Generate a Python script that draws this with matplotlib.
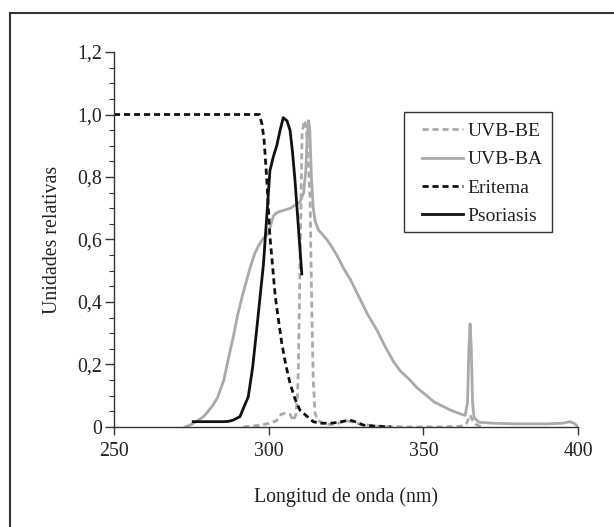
import matplotlib
matplotlib.use("Agg")
import matplotlib.pyplot as plt
from matplotlib.lines import Line2D
from matplotlib.patches import Rectangle
from matplotlib.ticker import MultipleLocator, FuncFormatter

plt.rcParams['font.family'] = ['Liberation Serif', 'DejaVu Serif']

# UVB-BE (gris discontinua)
be_x = [291.8, 294.5, 297, 300.4, 302.5, 304.0, 305.3, 306.9, 308.0, 308.8, 309.3, 309.6,
        310.1, 310.5, 310.8, 311.3, 311.7, 312.2, 312.8, 313.4, 313.8, 314.4, 315.0, 316,
        318, 320, 322.5, 325.2, 327.5, 330, 335, 345, 355, 362, 364, 365.1, 366, 367.3, 369]
be_y = [0, 0.003, 0.005, 0.012, 0.02, 0.04, 0.044, 0.04, 0.02, 0.04, 0.1, 0.19,
        0.51, 0.75, 0.94, 0.97, 0.98, 0.95, 0.85, 0.73, 0.45, 0.15, 0.044, 0.02,
        0.01, 0.008, 0.012, 0.02, 0.015, 0.008, 0.003, 0.0, 0.0, 0.002, 0.012, 0.038, 0.02, 0.006, 0.0]

# UVB-BA (gris continua)
ba_x = [273, 275, 277, 278.9, 280, 282, 283.5, 285.5, 287, 288.6, 290, 291.5, 292.9, 294,
        295.5, 296.7, 298, 299.9, 300.5, 301.5, 302.5, 303.7, 307, 310.1, 311.3, 312.0,
        312.5, 312.9, 313.3, 313.8, 314.4, 315.0, 316.1, 317.5, 318.8, 320.5, 322, 324.1,
        326.5, 329.5, 332, 335, 337.5, 340.3, 342.5, 345.7, 348, 351.1, 353.5, 356.5, 359,
        361.9, 363.5, 364.3, 364.7, 365.1, 365.5, 365.9, 366.4, 368, 372.6, 380, 390, 395,
        397.4, 399, 400]
ba_y = [0.0, 0.008, 0.02, 0.033, 0.045, 0.07, 0.095, 0.15, 0.22, 0.29, 0.36, 0.42, 0.47, 0.51,
        0.555, 0.58, 0.60, 0.62, 0.64, 0.675, 0.685, 0.69, 0.70, 0.72, 0.75, 0.82,
        0.94, 0.98, 0.95, 0.80, 0.70, 0.66, 0.63, 0.615, 0.60, 0.575, 0.55, 0.51,
        0.47, 0.41, 0.36, 0.31, 0.26, 0.21, 0.18, 0.15, 0.125, 0.10, 0.08, 0.065, 0.053,
        0.042, 0.037, 0.08, 0.25, 0.33, 0.25, 0.08, 0.03, 0.015, 0.012, 0.010, 0.010, 0.012,
        0.017, 0.01, 0.0]

# Eritema (negra discontinua)
eri_x = [250, 297, 297.8, 298.5, 299.4, 300.4, 301.3, 302.1, 303.2, 304.2, 305.5, 306.9,
         308.5, 310.1, 312.3, 314.4, 316.5, 319.9, 322, 324, 326.3, 328.5, 330.6, 334, 339.5]
eri_y = [1.0, 1.0, 0.97, 0.92, 0.79, 0.61, 0.51, 0.42, 0.34, 0.27, 0.2, 0.14,
         0.09, 0.054, 0.035, 0.017, 0.012, 0.012, 0.014, 0.018, 0.022, 0.015, 0.006, 0.003, 0.0]

# Psoriasis (negra continua)
pso_x = [275.6, 285.3, 287.0, 288.5, 290.7, 293.4, 294.8, 296.1, 298.3, 300.4, 301.5, 302.6,
         303.7, 304.7, 305.9, 306.9, 307.7, 308.5, 309.6, 310.7]
pso_y = [0.017, 0.017, 0.018, 0.022, 0.033, 0.097, 0.19, 0.31, 0.52, 0.82, 0.865, 0.90,
         0.95, 0.99, 0.98, 0.95, 0.88, 0.79, 0.64, 0.49]

gray = '#aaaaaa'
dark = '#111111'

fig = plt.figure(figsize=(6.14, 5.27), dpi=100)
ax = fig.add_axes([0.1857, 0.1898, 0.7557, 0.7115])

ax.plot(be_x, be_y, color=gray, lw=2, dashes=(2.2, 1.4), label='UVB-BE')
ax.plot(ba_x, ba_y, color=gray, lw=2, label='UVB-BA')
ax.plot(eri_x, eri_y, color=dark, lw=2, dashes=(2.2, 1.4), label='Eritema')
ax.plot(pso_x, pso_y, color=dark, lw=2, label='Psoriasis')

ax.set_xlim(250, 400)
ax.set_ylim(0, 1.2)
ax.set_xticks([250, 300, 350, 400])
ax.set_yticks([0, 0.2, 0.4, 0.6, 0.8, 1.0, 1.2])
ax.yaxis.set_minor_locator(MultipleLocator(0.05))
ax.yaxis.set_major_formatter(FuncFormatter(lambda v, p: '0' if v == 0 else f'{v:.1f}'.replace('.', ',')))

for s in ['top', 'right']:
    ax.spines[s].set_visible(False)
for s in ['left', 'bottom']:
    ax.spines[s].set_color('#333333')
    ax.spines[s].set_linewidth(1.0)

ax.tick_params(axis='both', which='major', direction='out', length=6.5, width=1,
               colors='#333333', labelsize=14.3, labelcolor='#222222')
ax.tick_params(axis='y', which='minor', direction='out', length=3.5, width=0.8, colors='#333333')
ax.tick_params(axis='y', which='major', pad=2)
ax.tick_params(axis='x', which='major', length=6, pad=5)

ax.set_xlabel('Longitud de onda (nm)', fontsize=14.3, color='#222222', labelpad=19)
ax.set_ylabel('Unidades relativas', fontsize=14.3, color='#222222', labelpad=11)

# caja de la leyenda dibujada aparte, con más margen lateral
ax.add_patch(Rectangle((0.625, 0.52), 0.319, 0.32, transform=ax.transAxes, fill=True,
                       facecolor='white', edgecolor='#333333', lw=1.0, zorder=4))
leg = ax.legend(loc='upper left', bbox_to_anchor=(0.664, 0.812), fontsize=14,
                frameon=False, handlelength=2.1, handletextpad=0.25, labelspacing=0.55,
                borderpad=0, borderaxespad=0)
leg.set_zorder(5)
for t in leg.get_texts():
    t.set_color('#222222')

# marco de la figura (arriba e izquierda)
fig.add_artist(Line2D([10 / 614, 1], [1 - 13 / 527, 1 - 13 / 527], color='#333333', lw=1.5,
                      transform=fig.transFigure))
fig.add_artist(Line2D([10 / 614, 10 / 614], [0, 1 - 13 / 527], color='#333333', lw=1.5,
                      transform=fig.transFigure))

fig.savefig('out.png', dpi=100)
